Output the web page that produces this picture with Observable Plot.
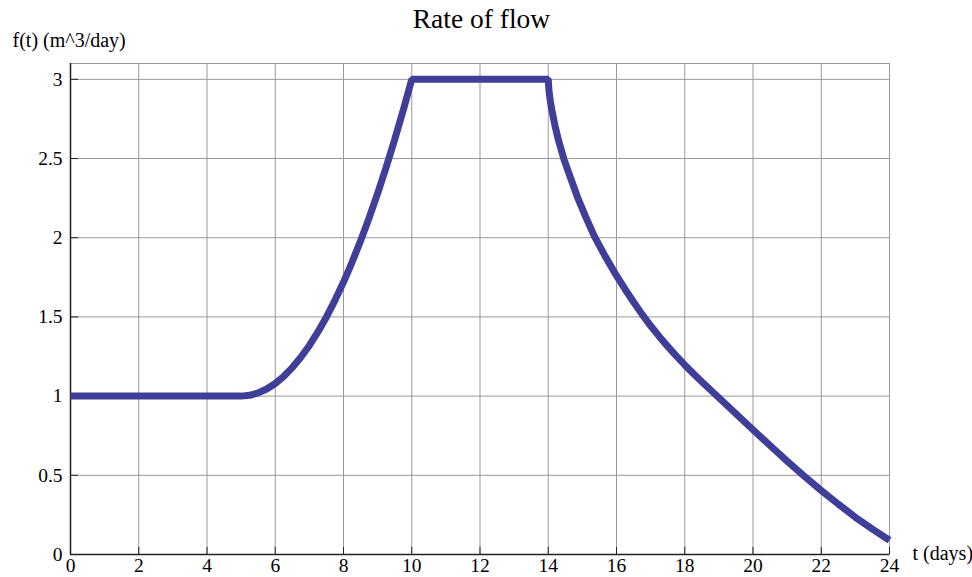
<!DOCTYPE html>
<html>
<head>
<meta charset="utf-8">
<script src="https://cdn.jsdelivr.net/npm/d3@7"></script>
<script src="https://cdn.jsdelivr.net/npm/@observablehq/plot@0.6"></script>
<style>
  html, body { margin: 0; padding: 0; background: #fff; }
  #chart svg { display: block; }
</style>
</head>
<body>
<div id="chart"></div>
<script>
const title = "Rate of flow";
const yLabel = "f(t) (m^3/day)";
const xLabel = "t (days)";
const xTicks = [0, 2, 4, 6, 8, 10, 12, 14, 16, 18, 20, 22, 24];
const yTicks = [0, 0.5, 1, 1.5, 2, 2.5, 3];

// t (days) values
const tValues = [0, 5, 5.25, 5.5, 5.75, 6, 6.25, 6.5, 6.75, 7, 7.25, 7.5, 7.75, 8, 8.25, 8.5, 8.75, 9, 9.25, 9.5, 9.75, 10,
  14, 14.02, 14.06, 14.11, 14.2, 14.3, 14.46, 14.65, 14.85, 15.1, 15.35, 15.65, 16, 16.25, 16.5, 16.75, 17, 17.25, 17.5, 17.75,
  18, 18.25, 18.5, 18.75, 19, 19.5, 20, 20.5, 21, 21.5, 22, 22.5, 23, 23.5, 24];
// f(t) values
const fValues = [1, 1, 1.005, 1.02, 1.045, 1.08, 1.125, 1.18, 1.245, 1.32, 1.405, 1.5, 1.605, 1.72, 1.845, 1.98, 2.125, 2.28, 2.445, 2.62, 2.805, 3,
  3, 2.93, 2.865, 2.8, 2.705, 2.615, 2.495, 2.38, 2.26, 2.13, 2.01, 1.89, 1.76, 1.675, 1.594, 1.516, 1.444, 1.377, 1.314, 1.254,
  1.197, 1.143, 1.091, 1.04, 0.99, 0.889, 0.788, 0.688, 0.59, 0.495, 0.404, 0.318, 0.235, 0.16, 0.09];

const data = tValues.map((t, i) => ({t, f: fValues[i]}));
const fmt = d => String(d);

const chart = Plot.plot({
  width: 972,
  height: 577,
  marginLeft: 70,
  marginRight: 83,
  marginTop: 63,
  marginBottom: 23,
  style: {fontFamily: "'Liberation Serif', 'DejaVu Serif', serif", fontSize: "19px", color: "#000", background: "#fff"},
  x: {domain: [0, 24]},
  y: {domain: [0, 3.1]},
  marks: [
    Plot.gridX(xTicks, {stroke: "#999", strokeOpacity: 1}),
    Plot.gridY(yTicks, {stroke: "#999", strokeOpacity: 1}),
    Plot.frame({stroke: "#999"}),
    Plot.axisX(xTicks, {tickSize: 7, dy: -7, tickPadding: 4, tickFormat: fmt, fontSize: 19.5, stroke: "#222", label: null}),
    Plot.axisY(yTicks, {tickSize: 8, dx: 8, tickPadding: 8, tickFormat: fmt, fontSize: 19.5, stroke: "#222", label: null}),
    Plot.ruleX([0], {stroke: "#222", strokeWidth: 1.5}),
    Plot.ruleY([0], {stroke: "#222", strokeWidth: 1.5}),
    Plot.line(data, {x: "t", y: "f", stroke: "#3f3f9a", strokeWidth: 7, strokeLinejoin: "miter", strokeLinecap: "butt"}),
    Plot.text([title], {text: d => d, frameAnchor: "top", lineAnchor: "bottom", dx: 1.5, dy: -36, fontSize: 27.5, fill: "#000"}),
    Plot.text([yLabel], {text: d => d, frameAnchor: "top-left", textAnchor: "start", lineAnchor: "bottom", dx: -58, dy: -17, fontSize: 20, fill: "#000"}),
    Plot.text([xLabel], {text: d => d, frameAnchor: "bottom-right", textAnchor: "start", lineAnchor: "middle", dx: 23, dy: -1, fontSize: 20, fill: "#000"})
  ]
});
document.getElementById("chart").appendChild(chart);
</script>
</body>
</html>
